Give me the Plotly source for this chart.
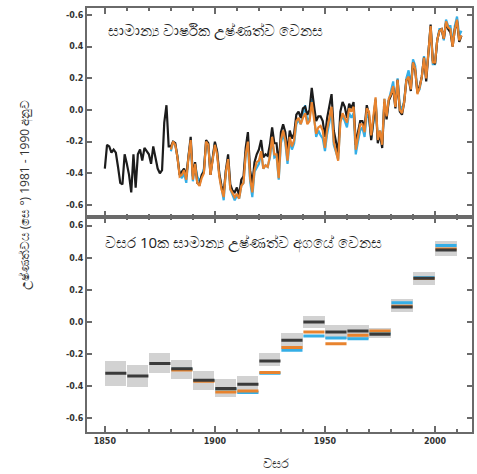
import plotly.graph_objects as go

# ---------------- data ----------------
years_black = list(range(1850, 2013))
black_annual = [
    -0.37, -0.22, -0.23, -0.27, -0.25, -0.27, -0.36, -0.46, -0.47, -0.28,
    -0.34, -0.41, -0.52, -0.28, -0.49, -0.28, -0.25, -0.32, -0.24, -0.26,
    -0.28, -0.34, -0.23, -0.30, -0.37, -0.40, -0.38, -0.08, 0.03, -0.23,
    -0.23, -0.20, -0.21, -0.30, -0.41, -0.39, -0.37, -0.42, -0.31, -0.17,
    -0.42, -0.33, -0.46, -0.47, -0.41, -0.39, -0.19, -0.21, -0.41, -0.29,
    -0.20, -0.26, -0.40, -0.48, -0.52, -0.38, -0.28, -0.47, -0.51, -0.52,
    -0.49, -0.54, -0.44, -0.42, -0.24, -0.14, -0.38, -0.47, -0.33, -0.28,
    -0.25, -0.19, -0.30, -0.28, -0.29, -0.22, -0.11, -0.21, -0.21, -0.35,
    -0.14, -0.09, -0.14, -0.27, -0.13, -0.18, -0.15, -0.03, -0.01, -0.05,
    0.01, 0.02, -0.03, 0.00, 0.14, 0.03, -0.07, -0.04, -0.04, -0.07,
    -0.17, -0.05, 0.03, 0.10, -0.13, -0.19, -0.27, -0.01, 0.05, 0.02,
    -0.05, 0.04, 0.01, 0.05, -0.22, -0.14, -0.07, -0.07, -0.11, 0.03,
    -0.03, -0.19, -0.07, 0.06, -0.21, -0.15, -0.24, 0.05, -0.06, 0.06,
    0.09, 0.14, 0.01, 0.19, -0.01, -0.03, 0.05, 0.19, 0.20, 0.12,
    0.30, 0.25, 0.11, 0.15, 0.21, 0.33, 0.18, 0.39, 0.54, 0.31,
    0.29, 0.44, 0.50, 0.51, 0.45, 0.55, 0.51, 0.49, 0.40, 0.51,
    0.56, 0.43, 0.47,
]

years_other = list(range(1880, 2013))
orange_annual = [
    -0.25, -0.20, -0.22, -0.30, -0.42, -0.41, -0.38, -0.44, -0.30, -0.19,
    -0.44, -0.34, -0.46, -0.48, -0.43, -0.40, -0.20, -0.22, -0.41, -0.30,
    -0.22, -0.28, -0.42, -0.50, -0.55, -0.39, -0.31, -0.50, -0.53, -0.55,
    -0.53, -0.56, -0.48, -0.46, -0.28, -0.20, -0.43, -0.52, -0.38, -0.33,
    -0.32, -0.26, -0.37, -0.35, -0.36, -0.29, -0.17, -0.28, -0.28, -0.43,
    -0.19, -0.13, -0.19, -0.32, -0.17, -0.23, -0.19, -0.07, -0.05, -0.09,
    -0.05, -0.02, -0.09, -0.07, 0.05, -0.04, -0.15, -0.11, -0.10, -0.13,
    -0.24, -0.12, -0.05, 0.02, -0.20, -0.26, -0.32, -0.08, -0.02, -0.05,
    -0.08, 0.01, -0.01, 0.02, -0.25, -0.17, -0.09, -0.09, -0.14, 0.01,
    -0.01, -0.16, -0.05, 0.08, -0.19, -0.13, -0.22, 0.07, -0.04, 0.07,
    0.10, 0.15, 0.02, 0.19, 0.00, -0.02, 0.05, 0.19, 0.21, 0.13,
    0.30, 0.26, 0.10, 0.14, 0.21, 0.33, 0.20, 0.38, 0.53, 0.30,
    0.30, 0.44, 0.50, 0.51, 0.45, 0.56, 0.52, 0.51, 0.40, 0.51,
    0.57, 0.44, 0.47,
]
blue_annual = [
    -0.26, -0.20, -0.22, -0.29, -0.41, -0.43, -0.40, -0.46, -0.29, -0.20,
    -0.45, -0.34, -0.42, -0.45, -0.42, -0.37, -0.21, -0.22, -0.40, -0.29,
    -0.21, -0.27, -0.41, -0.49, -0.57, -0.38, -0.32, -0.50, -0.54, -0.57,
    -0.54, -0.56, -0.48, -0.46, -0.27, -0.23, -0.45, -0.55, -0.39, -0.36,
    -0.34, -0.27, -0.37, -0.35, -0.36, -0.30, -0.18, -0.30, -0.29, -0.44,
    -0.21, -0.15, -0.21, -0.34, -0.19, -0.25, -0.21, -0.09, -0.06, -0.09,
    -0.02, 0.03, -0.07, -0.05, 0.07, -0.03, -0.17, -0.13, -0.16, -0.18,
    -0.26, -0.15, -0.08, 0.00, -0.22, -0.26, -0.31, -0.07, -0.04, -0.07,
    -0.11, -0.02, -0.05, -0.02, -0.28, -0.20, -0.13, -0.11, -0.17, -0.03,
    -0.05, -0.18, -0.08, 0.07, -0.19, -0.13, -0.22, 0.07, -0.04, 0.06,
    0.13, 0.18, 0.03, 0.20, 0.03, 0.00, 0.06, 0.20, 0.25, 0.15,
    0.32, 0.28, 0.11, 0.13, 0.21, 0.34, 0.21, 0.37, 0.52, 0.29,
    0.29, 0.44, 0.51, 0.51, 0.44, 0.57, 0.53, 0.53, 0.42, 0.53,
    0.59, 0.47, 0.50,
]

decades_black = [1850, 1860, 1870, 1880, 1890, 1900, 1910, 1920, 1930, 1940,
                 1950, 1960, 1970, 1980, 1990, 2000]
black_decadal = [-0.32, -0.337, -0.26, -0.293, -0.364, -0.415, -0.389, -0.244,
                 -0.115, -0.001, -0.063, -0.057, -0.078, 0.092, 0.272, 0.449]
unc_low = [-0.405, -0.41, -0.32, -0.36, -0.43, -0.47, -0.45, -0.28,
           -0.17, -0.04, -0.11, -0.11, -0.105, 0.06, 0.227, 0.41]
unc_high = [-0.25, -0.27, -0.20, -0.244, -0.31, -0.36, -0.34, -0.196,
            -0.075, 0.034, -0.02, -0.02, -0.04, 0.14, 0.31, 0.50]

decades_other = [1880, 1890, 1900, 1910, 1920, 1930, 1940, 1950, 1960, 1970,
                 1980, 1990, 2000]
orange_decadal = [-0.30, -0.37, -0.437, -0.432, -0.316, -0.16, -0.063, -0.136,
                  -0.084, -0.057, 0.098, 0.27, 0.455]
blue_decadal = [-0.295, -0.365, -0.42, -0.44, -0.32, -0.177, -0.088, -0.10,
                -0.105, -0.07, 0.12, 0.275, 0.476]

top_tickvals = [0.6, 0.4, 0.2, 0.0, -0.2, -0.4, -0.6]
top_ticktext = ["-0.6", "0.4", "0.2", "0.0", "-0.2", "-0.4", "-0.6"]
bot_tickvals = [0.6, 0.4, 0.2, 0.0, -0.2, -0.4, -0.6]
bot_ticktext = ["0.6", "0.4", "0.2", "0.0", "-0.2", "-0.4", "-0.6"]
x_tickvals = [1850, 1900, 1950, 2000]
x_ticktext = ["1850", "1900", "1950", "2000"]

title_top = "සාමාන්‍ය වාර්ෂික උෂ්ණත්ව වෙනස"
title_bottom = "වසර 10ක සාමාන්‍ය උෂ්ණත්ව අගයේ වෙනස"
y_title = "උෂ්ණත්වය (සෙ °) 1981 - 1990 අනුව"
x_title = "වසර"

# ---------------- styles ----------------
C_BLACK = "#1c1c1c"
C_ORANGE = "#e8832e"
C_BLUE = "#35aee6"
C_AXIS = "#6a6a6a"
C_BOX = "#d2d2d2"


def step_xy(starts, vals):
    xs, ys = [], []
    for s, v in zip(starts, vals):
        xs += [s + 0.2, s + 9.8, None]
        ys += [v, v, None]
    return xs, ys


fig = go.Figure()

# top panel lines
fig.add_trace(go.Scatter(x=years_other, y=blue_annual, mode="lines",
                         line=dict(color=C_BLUE, width=2.2), xaxis="x", yaxis="y",
                         showlegend=False))
fig.add_trace(go.Scatter(x=years_black, y=black_annual, mode="lines",
                         line=dict(color=C_BLACK, width=2.2), xaxis="x", yaxis="y",
                         showlegend=False))
fig.add_trace(go.Scatter(x=years_other, y=orange_annual, mode="lines",
                         line=dict(color=C_ORANGE, width=2.2), xaxis="x", yaxis="y",
                         showlegend=False))

# bottom panel: uncertainty boxes
fig.add_trace(go.Bar(x=[d + 5 for d in decades_black],
                     y=[h - l for h, l in zip(unc_high, unc_low)],
                     base=unc_low, width=9.6,
                     marker=dict(color=C_BOX, line=dict(width=0)),
                     xaxis="x2", yaxis="y2", showlegend=False))

bx, by = step_xy(decades_other, blue_decadal)
fig.add_trace(go.Scatter(x=bx, y=by, mode="lines", line=dict(color=C_BLUE, width=3),
                         xaxis="x2", yaxis="y2", showlegend=False))
ox, oy = step_xy(decades_other, orange_decadal)
fig.add_trace(go.Scatter(x=ox, y=oy, mode="lines", line=dict(color=C_ORANGE, width=3),
                         xaxis="x2", yaxis="y2", showlegend=False))
kx, ky = step_xy(decades_black, black_decadal)
fig.add_trace(go.Scatter(x=kx, y=ky, mode="lines", line=dict(color="#3a3a3a", width=3),
                         xaxis="x2", yaxis="y2", showlegend=False))

split = 0.5059
xr = [1841.9, 2016.8]
tickfont = dict(family="DejaVu Sans", size=8, color="#333333", weight="bold")

common_x = dict(range=xr, showline=True, linecolor=C_AXIS, linewidth=2, mirror="allticks",
                ticks="inside", ticklen=6, tickwidth=1.5, tickcolor=C_AXIS,
                tickvals=x_tickvals, ticktext=x_ticktext, showgrid=False, zeroline=False,
                minor=dict(dtick=10, tick0=1850, ticks="inside", ticklen=3,
                           tickwidth=1.5, tickcolor=C_AXIS),
                tickfont=tickfont)
common_y = dict(showline=True, linecolor=C_AXIS, linewidth=2, mirror="allticks",
                ticks="inside", ticklen=5, tickwidth=1.5, tickcolor=C_AXIS,
                showgrid=False, zeroline=False, tickfont=tickfont)

fig.update_layout(
    width=477, height=474,
    margin=dict(l=87, r=3, t=8, b=42),
    paper_bgcolor="white", plot_bgcolor="white",
    bargap=0,
    xaxis=dict(**common_x, anchor="y", showticklabels=False),
    yaxis=dict(**common_y, domain=[split, 1], range=[-0.679, 0.644],
               tickvals=top_tickvals, ticktext=top_ticktext),
    xaxis2=dict(**common_x, anchor="y2", showticklabels=True),
    yaxis2=dict(**common_y, domain=[0, split], range=[-0.687, 0.651],
                tickvals=bot_tickvals, ticktext=bot_ticktext),
    annotations=[
        dict(text=title_top, xref="paper", yref="paper", x=0.049, y=0.948,
             xanchor="left", yanchor="middle", showarrow=False,
             font=dict(size=15, color="#222222")),
        dict(text=title_bottom, xref="paper", yref="paper", x=0.041, y=0.448,
             xanchor="left", yanchor="middle", showarrow=False,
             font=dict(size=15, color="#222222")),
        dict(text=y_title, xref="paper", yref="paper", x=-0.16, y=0.559,
             xanchor="center", yanchor="middle", textangle=-90, showarrow=False,
             font=dict(size=12, color="#333333")),
        dict(text=x_title, xref="paper", yref="paper", x=0.49, y=-0.073,
             xanchor="center", yanchor="middle", showarrow=False,
             font=dict(size=13, color="#333333")),
    ],
)

fig.write_html("out.html", config={"displayModeBar": False},
               post_script="document.body.style.margin='0';")
